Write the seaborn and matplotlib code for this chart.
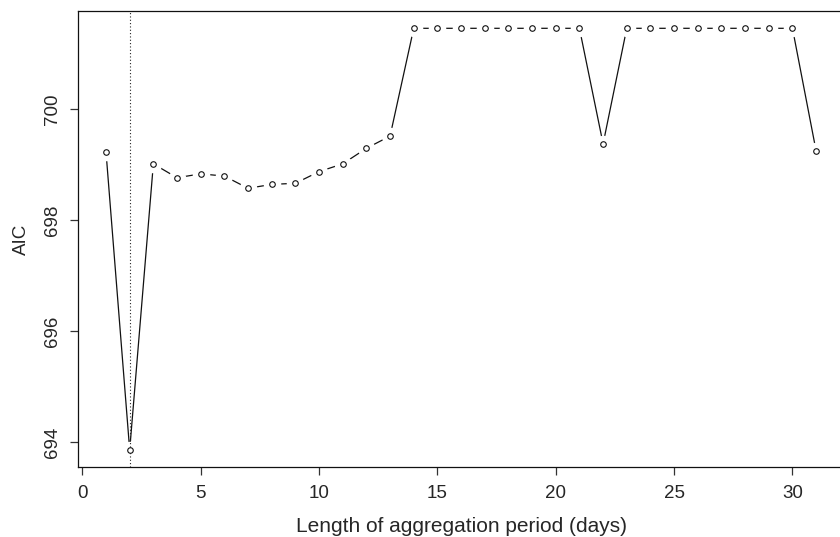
import matplotlib
matplotlib.use("Agg")
import matplotlib.pyplot as plt
import seaborn as sns
import pandas as pd

# Data
period_days = list(range(1, 32))
aic_values = [699.22, 693.86, 699.01, 698.76, 698.83, 698.79, 698.57, 698.64,
              698.66, 698.87, 699.01, 699.29, 699.51,
              701.45, 701.45, 701.45, 701.45, 701.45, 701.45, 701.45, 701.45,
              699.37,
              701.45, 701.45, 701.45, 701.45, 701.45, 701.45, 701.45, 701.45,
              699.24]
best_period = 2
x_ticks = [0, 5, 10, 15, 20, 25, 30]
y_ticks = [694, 696, 698, 700]

df = pd.DataFrame({"days": period_days, "AIC": aic_values})

sns.set_style("white")
plt.rcParams["font.family"] = ["Liberation Sans", "DejaVu Sans"]

fig = plt.figure(figsize=(8.4, 5.37), dpi=100)
ax = fig.add_axes([0.0924, 0.1307, 0.913, 0.848])

# line segments
sns.lineplot(data=df, x="days", y="AIC", ax=ax, color="#111111",
             linewidth=0.9, zorder=2, estimator=None, sort=False)
# white halos create the R type="b" gaps
sns.scatterplot(data=df, x="days", y="AIC", ax=ax, s=160, color="white",
                linewidth=0, zorder=3)
ax.axvline(best_period, color="#222222", linestyle=(0, (1, 2)), linewidth=0.8,
           zorder=4)
sns.scatterplot(data=df, x="days", y="AIC", ax=ax, s=16, facecolor="white",
                edgecolor="#111111", linewidth=0.8, zorder=5)

xr = period_days[-1] - period_days[0]
ax.set_xlim(period_days[0] - 0.04 * xr, period_days[-1] + 0.04 * xr)
ymin, ymax = min(aic_values), max(aic_values)
yr = ymax - ymin
ax.set_ylim(ymin - 0.04 * yr, ymax + 0.04 * yr)

ax.set_xticks(x_ticks)
ax.set_yticks(y_ticks)
ax.set_yticklabels([str(v) for v in y_ticks], rotation=90, va="center")
ax.tick_params(axis="both", which="major", direction="out", length=6,
               width=0.9, color="#333333", labelsize=13.5, bottom=True, left=True)
ax.tick_params(axis="x", pad=7)
ax.tick_params(axis="y", pad=6)

for sp in ax.spines.values():
    sp.set_visible(True)
    sp.set_color("#111111")
    sp.set_linewidth(0.9)

ax.set_xlabel("Length of aggregation period (days)", fontsize=15, labelpad=11)
ax.set_ylabel("AIC", fontsize=13.5, labelpad=10)

fig.savefig("out.png", dpi=100)
